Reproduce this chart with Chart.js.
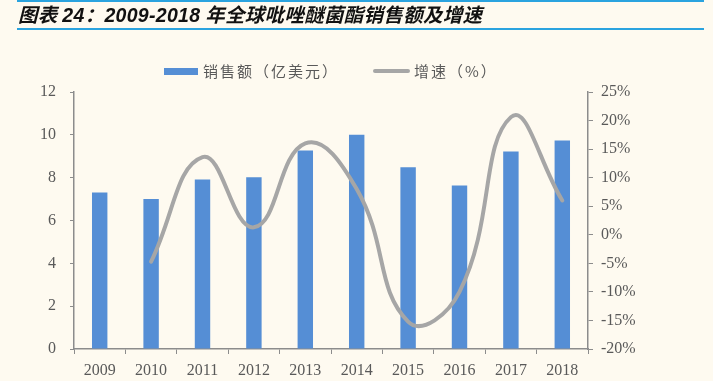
<!DOCTYPE html>
<html>
<head>
<meta charset="utf-8">
<script src="https://cdn.jsdelivr.net/npm/chart.js@4/dist/chart.umd.min.js"></script>
<style>
  html, body { margin: 0; padding: 0; background: #FEFAF0; }
  #wrap { position: relative; width: 713px; height: 381px; overflow: hidden; background: #FEFAF0; }
  #topline { position: absolute; left: 17px; top: 0; width: 687px; height: 2px; background: #2AA3DF; }
  #title { position: absolute; left: 18px; top: 1px; font-family: "Noto Sans CJK SC", sans-serif; font-weight: bold; font-style: italic; font-size: 19.5px; color: #111; white-space: nowrap; line-height: 26px; letter-spacing: 0.3px; }
  #title .num { font-family: "Liberation Sans", Arial, sans-serif; font-weight: bold; font-style: italic; }
  #botline { position: absolute; left: 17px; top: 28px; width: 687px; height: 2px; background: #2AA3DF; }
  #chartbox { position: absolute; left: 0; top: 0; width: 713px; height: 381px; }
  .leg { position: absolute; top: 60px; font-family: "Noto Sans CJK SC", sans-serif; font-size: 15px; color: #595959; white-space: nowrap; line-height: 22px; letter-spacing: 2px; }
  .sw { position: absolute; }
</style>
</head>
<body>
<div id="wrap">
  <div id="chartbox"><canvas id="c" width="713" height="381"></canvas></div>
  <div id="topline"></div>
  <div id="title">图表 <span class="num">24</span>：<span class="num">2009-2018</span> 年全球吡唑醚菌酯销售额及增速</div>
  <div id="botline"></div>
  <div class="sw" style="left:164px; top:68px; width:34px; height:7px; background:#558ED5;"></div>
  <div class="leg" id="leg1" style="left:203px;">销售额（亿美元）</div>
  <div class="sw" style="left:373px; top:69px; width:37px; height:4px; background:#A6A6A6; border-radius:2px;"></div>
  <div class="leg" id="leg2" style="left:414px;">增速（%）</div>
</div>
<script>
const categories = ["2009", "2010", "2011", "2012", "2013", "2014", "2015", "2016", "2017", "2018"];
const salesValues = [7.31, 7.0, 7.91, 8.02, 9.27, 10.0, 8.49, 7.64, 9.22, 9.73];
const growthValues = [null, -4.7, 13.6, 1.3, 16.0, 8.0, -15.2, -10.0, 20.6, 6.0];
const leftTicks = [0, 2, 4, 6, 8, 10, 12];
const rightTicks = [-20, -15, -10, -5, 0, 5, 10, 15, 20, 25];
const salesLabel = "销售额（亿美元）";
const growthLabel = "增速（%）";

const axisColor = "#8C8C8C";
const tickFont = { family: "'Liberation Serif', 'Times New Roman', serif", size: 16 };
const tickColor = "#595959";

new Chart(document.getElementById("c"), {
  data: {
    labels: categories,
    datasets: [
      {
        type: "line",
        label: growthLabel,
        data: growthValues,
        yAxisID: "y1",
        borderColor: "#A6A6A6",
        borderWidth: 4,
        pointRadius: 0,
        tension: 0.45,
        fill: false,
        order: 0,
        borderCapStyle: "round"
      },
      {
        type: "bar",
        label: salesLabel,
        data: salesValues,
        yAxisID: "y",
        backgroundColor: "#558ED5",
        barPercentage: 0.3,
        categoryPercentage: 1.0,
        order: 1
      }
    ]
  },
  options: {
    responsive: false,
    animation: false,
    layout: { padding: { left: 0, right: 65, top: 92, bottom: 0 } },
    plugins: { legend: { display: false }, tooltip: { enabled: false }, title: { display: false } },
    scales: {
      x: {
        type: "category",
        offset: true,
        grid: { display: true, drawOnChartArea: false, drawTicks: true, tickLength: 5, color: axisColor, offset: true },
        border: { display: true, color: axisColor, width: 1.5 },
        ticks: { font: tickFont, color: tickColor, padding: 7, maxRotation: 0 },
        afterFit: (s) => { s.height = 32; }
      },
      y: {
        position: "left",
        min: 0, max: 12,
        afterBuildTicks: (s) => { s.ticks = leftTicks.map(v => ({ value: v })); },
        grid: { display: true, drawOnChartArea: false, drawTicks: true, tickLength: 4, color: axisColor },
        border: { display: true, color: axisColor, width: 1.5 },
        ticks: { font: tickFont, color: tickColor, padding: 14 },
        afterFit: (s) => { s.width = 74; }
      },
      y1: {
        position: "right",
        min: -20, max: 25,
        afterBuildTicks: (s) => { s.ticks = rightTicks.map(v => ({ value: v })); },
        grid: { display: true, drawOnChartArea: false, drawTicks: true, tickLength: 5, color: axisColor },
        border: { display: true, color: axisColor, width: 1.5 },
        ticks: { font: tickFont, color: tickColor, padding: 8, callback: (v) => v + "%" },
        afterFit: (s) => { s.width = 60; }
      }
    }
  }
});
</script>
</body>
</html>
